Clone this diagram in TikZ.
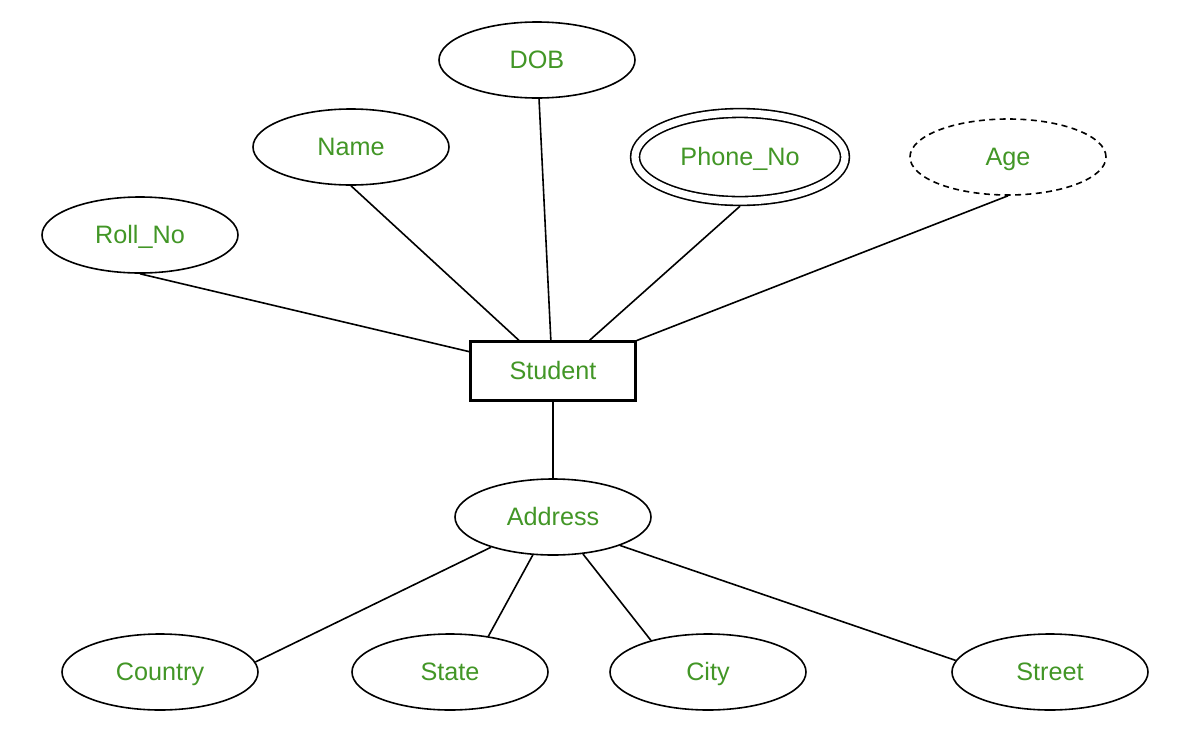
\documentclass[tikz,border=0pt]{standalone}
\usepackage{fontspec}
\setmainfont{Liberation Sans}
\usetikzlibrary{shapes.geometric}
\definecolor{leafgreen}{RGB}{66, 150, 38}

\tikzset{
    attrib/.style={draw, ellipse, line width=0.8pt, inner sep=0pt,
                   minimum width=98pt, minimum height=38pt,
                   text height=10pt, text depth=1.6pt,
                   text=leafgreen, font=\fontsize{12.6}{15}\selectfont},
    multi/.style={attrib, double, double distance=3.6pt,
                  minimum width=105pt, minimum height=44pt, outer sep=2.6pt},
    derived/.style={attrib, dashed, dash pattern=on 3pt off 2.2pt},
    entity/.style={draw, rectangle, line width=1.1pt, inner sep=0pt,
                   minimum width=82.5pt, minimum height=29.5pt,
                   text height=10pt, text depth=1.6pt,
                   text=leafgreen, font=\fontsize{12.6}{15}\selectfont},
    link/.style={line width=0.8pt}
}

\begin{document}
\begin{tikzpicture}[x=0.5pt, y=-0.5pt]
            \useasboundingbox (0,0) rectangle (1180,756);
            % entity
            \node[entity]  (student) at ( 553, 371) {Student};
            % attributes
            \node[attrib]  (dob)     at ( 537,  60) {DOB};
            \node[attrib]  (name)    at ( 351, 147) {Name};
            \node[attrib]  (rollno)  at ( 140, 235) {Roll\_No};
            \node[multi]   (phoneno) at ( 740, 157) {Phone\_No};
            \node[derived] (age)     at (1008, 157) {Age};
            \node[attrib]  (address) at ( 553, 517) {Address};
            % composite parts
            \node[attrib]  (country) at ( 160, 672) {Country};
            \node[attrib]  (state)   at ( 450, 672) {State};
            \node[attrib]  (city)    at ( 708, 672) {City};
            \node[attrib]  (street)  at (1050, 672) {Street};
            % links
            \draw[link] (rollno.south)  -- (student.167);
            \draw[link] (name.south)    -- (student.138);
            \draw[link] (dob.-87)       -- (student.94);
            \draw[link] (phoneno.south) -- (student.40);
            \draw[link] (age.south)     -- (student.20);
            \draw[link] (student.south) -- (address.north);
            \draw[link] (address.206)   -- (country.6);
            \draw[link] (address.242)   -- (state.43);
            \draw[link] (address.309)   -- (city.151);
            \draw[link] (address.337)   -- (street.173);
\end{tikzpicture}
\end{document}
